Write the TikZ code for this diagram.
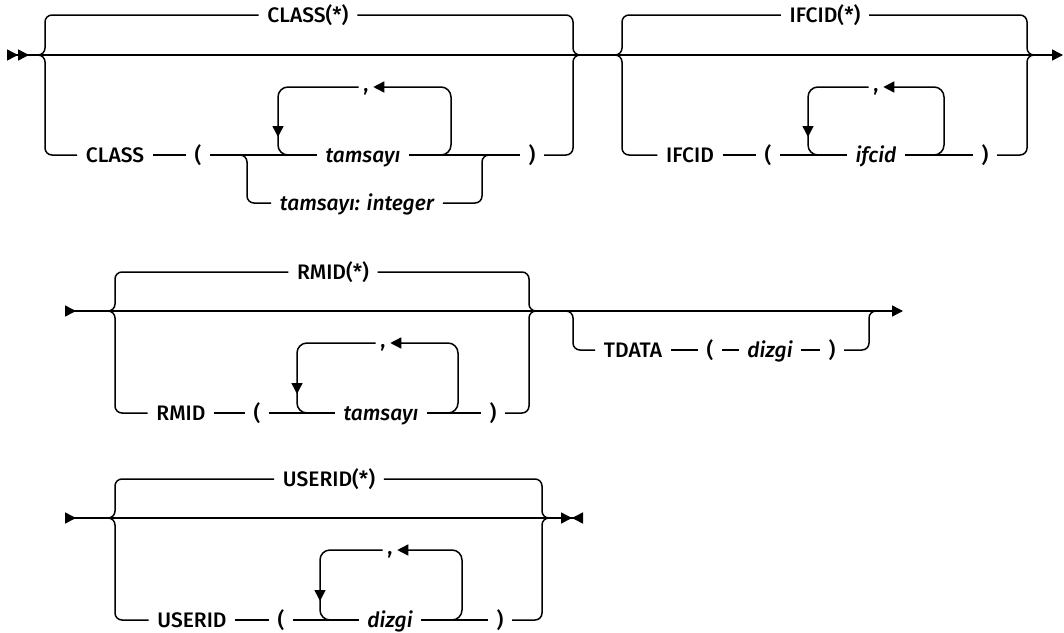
\documentclass[tikz,border=0pt]{standalone}
\usepackage{fontspec}
\setmainfont{Fira Sans Medium}
\usetikzlibrary{arrows.meta,positioning}

\begin{document}
\begin{tikzpicture}[x=1pt,y=-1pt,line width=1.5pt,>={Triangle[length=11pt,width=11pt]},
  kw/.style={inner xsep=8pt,inner ysep=0pt,text height=14pt,text depth=0pt,font=\fontsize{21}{25}\selectfont},
  varb/.style={kw,font=\fontsize{21}{25}\selectfont\itshape},
  cmma/.style={kw,inner xsep=4pt,text height=8pt},
  rc/.style={rounded corners=7pt},
  lp/.style={rounded corners=10pt}]
\useasboundingbox (0,0) rectangle (1064,632);

% CLASS / IFCID
\coordinate (r1s) at (7,55);
\coordinate (r1e) at (1063,55);
\draw[>>->] (r1s) -- (r1e);
\node[kw] (clsstar) at (308,15) {CLASS(*)};
\node[kw] (cls) at (115,155) {CLASS};
\node[kw] (clslp) at (198,155) {(};
\node[varb] (clsint) at (363,155) {tamsayı};
\node[cmma] (clscm) at (366,87) {,};
\node[varb] (clsint2) at (357,203) {tamsayı: integer};
\node[kw] (clsrp) at (532,155) {)};
\draw[rc] (38,55) -| (45,15) -- (clsstar);
\draw[rc] (clsstar) -| (573,55) -- (582,55);
\draw[rc] (38,55) -| (45,155) -- (cls);
\draw (cls) -- (clslp);
\draw (clslp) -- (clsint);
\draw (clsint) -- (clsrp);
\draw[rc] (clsrp) -| (573,55) -- (582,55);
\draw[rc] (239,155) -| (247,203) -- (clsint2);
\draw[rc] (clsint2) -| (482,155) -- (490,155);
\draw[lp,->] (439,155) -| (451,87) -- (clscm);
\draw[lp,->] (clscm) -| (278,137);
\draw[lp] (278,134) |- (290,155);

\node[kw] (ifcstar) at (825,15) {IFCID(*)};
\node[kw] (ifc) at (690,155) {IFCID};
\node[kw] (ifclp) at (768,155) {(};
\node[varb] (ifcid) at (876,155) {ifcid};
\node[cmma] (ifccm) at (876,87) {,};
\node[kw] (ifcrp) at (985,155) {)};
\draw[rc] (614,55) -| (622,15) -- (ifcstar);
\draw[rc] (ifcstar) -| (1027,55) -- (1036,55);
\draw[rc] (614,55) -| (622,155) -- (ifc);
\draw (ifc) -- (ifclp);
\draw (ifclp) -- (ifcid);
\draw (ifcid) -- (ifcrp);
\draw[rc] (ifcrp) -| (1027,55) -- (1036,55);
\draw[lp,->] (932,155) -| (944,87) -- (ifccm);
\draw[lp,->] (ifccm) -| (808,137);
\draw[lp] (808,134) |- (820,155);

% RMID / TDATA
\coordinate (r2s) at (65,311);
\coordinate (r2e) at (903,311);
\draw[>->] (r2s) -- (r2e);
\node[kw] (rmstar) at (333,272) {RMID(*)};
\node[kw] (rm) at (181,413) {RMID};
\node[kw] (rmlp) at (257,413) {(};
\node[varb] (rmint) at (381,413) {tamsayı};
\node[cmma] (rmcm) at (383,343) {,};
\node[kw] (rmrp) at (493,413) {)};
\draw[rc] (107,311) -| (115,272) -- (rmstar);
\draw[rc] (rmstar) -| (529,311) -- (537,311);
\draw[rc] (107,311) -| (115,413) -- (rm);
\draw (rm) -- (rmlp);
\draw (rmlp) -- (rmint);
\draw (rmint) -- (rmrp);
\draw[rc] (rmrp) -| (529,311) -- (537,311);
\draw[lp,->] (446,413) -| (458,343) -- (rmcm);
\draw[lp,->] (rmcm) -| (297,394);
\draw[lp] (297,391) |- (309,413);

\node[kw] (td) at (633,350) {TDATA};
\node[kw] (tdlp) at (710,350) {(};
\node[varb] (tddz) at (770,350) {dizgi};
\node[kw] (tdrp) at (832,350) {)};
\draw[rc] (565,311) -| (573,350) -- (td);
\draw (td) -- (tdlp);
\draw (tdlp) -- (tddz);
\draw (tddz) -- (tdrp);
\draw[rc] (tdrp) -| (869,311) -- (877,311);

% USERID
\coordinate (r3s) at (65,518);
\coordinate (r3e) at (583,518);
\draw[>-><] (r3s) -- (r3e);
\node[kw] (usstar) at (329,479) {USERID(*)};
\node[kw] (us) at (192,620) {USERID};
\node[kw] (uslp) at (281,620) {(};
\node[varb] (usdz) at (390,620) {dizgi};
\node[cmma] (uscm) at (390,550) {,};
\node[kw] (usrp) at (500,620) {)};
\draw[rc] (107,518) -| (115,479) -- (usstar);
\draw[rc] (usstar) -| (542,518) -- (550,518);
\draw[rc] (107,518) -| (115,620) -- (us);
\draw (us) -- (uslp);
\draw (uslp) -- (usdz);
\draw (usdz) -- (usrp);
\draw[rc] (usrp) -| (542,518) -- (550,518);
\draw[lp,->] (450,620) -| (462,550) -- (uscm);
\draw[lp,->] (uscm) -| (320,601);
\draw[lp] (320,598) |- (332,620);
\end{tikzpicture}
\end{document}
